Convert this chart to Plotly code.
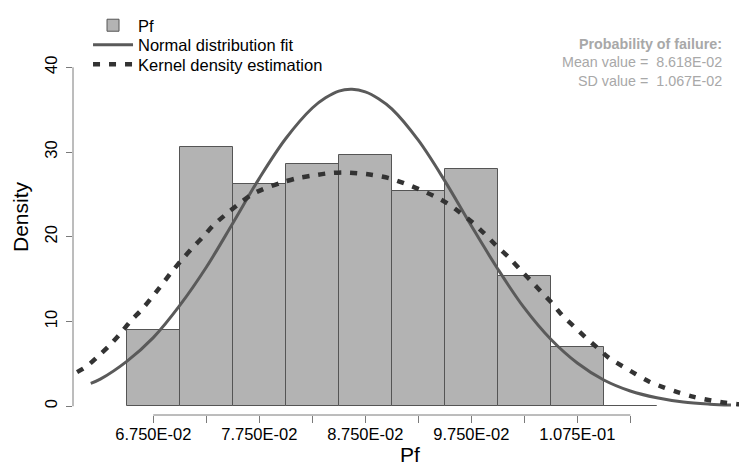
import plotly.graph_objects as go

# Histogramm der Versagenswahrscheinlichkeit (Dichte)
bin_centers = [0.0675, 0.0725, 0.0775, 0.0825, 0.0875, 0.0925, 0.0975, 0.1025, 0.1075, 0.1125]
bin_density = [9.0, 30.65, 26.2, 28.6, 29.6, 25.4, 28.0, 15.4, 7.0, 0.0]
bin_width = 0.005

# Normalverteilung
normal_x = [0.0616, 0.0625, 0.065, 0.0675, 0.070, 0.0725, 0.075, 0.0775, 0.080, 0.0825,
            0.08375, 0.085, 0.08625, 0.0875, 0.08875, 0.090, 0.0925, 0.095, 0.0975, 0.100,
            0.1025, 0.105, 0.1075, 0.110, 0.1125, 0.115, 0.1175, 0.120, 0.122]
normal_y = [2.7, 3.2, 5.3, 8.1, 11.9, 16.4, 21.6, 26.9, 31.6, 35.2,
            36.4, 37.2, 37.4, 37.1, 36.3, 35.1, 31.4, 26.6, 21.3, 16.2,
            11.6, 7.9, 5.1, 3.1, 1.8, 1.0, 0.5, 0.25, 0.14]

# Kerndichteschaetzung
kde_x = [0.0590, 0.0597, 0.0612, 0.0623, 0.0634, 0.0644, 0.0654, 0.0664, 0.0674, 0.0684, 0.0692,
         0.0702, 0.0712, 0.0722, 0.0732, 0.0744, 0.0756, 0.0768, 0.0782, 0.0796, 0.0810, 0.0824,
         0.0840, 0.0854, 0.0868, 0.0882, 0.0898, 0.0912, 0.0926, 0.0940, 0.0953, 0.0965, 0.0977,
         0.0988, 0.0999, 0.1011, 0.1022, 0.1032, 0.1041, 0.1051, 0.1061, 0.1072, 0.1083, 0.1094,
         0.1105, 0.1118, 0.1130, 0.1143, 0.1157, 0.1171, 0.1185, 0.1200, 0.1215, 0.1231, 0.1240]
kde_y = [3.1, 3.6, 4.7, 5.9, 7.2, 8.6, 10.1, 11.4, 12.9, 14.5, 15.8,
         17.3, 18.7, 20.0, 21.4, 22.7, 23.9, 25.0, 25.8, 26.4, 26.9, 27.2,
         27.5, 27.6, 27.5, 27.3, 26.9, 26.3, 25.6, 24.8, 23.9, 22.8, 21.6,
         20.3, 18.9, 17.5, 16.0, 14.7, 13.5, 12.2, 10.7, 9.4, 8.1, 6.9,
         5.7, 4.7, 3.8, 2.9, 2.2, 1.6, 1.1, 0.7, 0.4, 0.2, 0.15]

x_tickvals = [0.0675, 0.0725, 0.0775, 0.0825, 0.0875, 0.0925, 0.0975, 0.1025, 0.1075, 0.1125]
x_ticktext = ["6.750E-02", "", "7.750E-02", "", "8.750E-02", "", "9.750E-02", "", "1.075E-01", ""]
y_tickvals = [0, 10, 20, 30, 40]

mean_text = "Mean value = \u00a08.618E-02"
sd_text = "SD value = \u00a01.067E-02"

FONT = "Liberation Sans, Arial, sans-serif"
AXIS_GREY = "#7a7a7a"
NOTE_GREY = "#a8a8a8"

fig = go.Figure()

fig.add_trace(go.Bar(
    x=bin_centers, y=bin_density, width=bin_width, name="Pf", legend="legend",
    marker=dict(color="#b3b3b3", line=dict(color="#555555", width=1)),
))
fig.add_trace(go.Scatter(
    x=normal_x, y=normal_y, mode="lines", name="Normal distribution fit", legend="legend2",
    line=dict(color="#5a5a5a", width=3, shape="spline", smoothing=1.0),
))
fig.add_trace(go.Scatter(
    x=kde_x, y=kde_y, mode="lines", name="Kernel density estimation", legend="legend3",
    line=dict(color="#333333", width=4.5, dash="7px,9px", shape="spline", smoothing=0.8),
))

# Achsenlinien im R-Stil (nur zwischen erstem und letztem Tick)
fig.add_shape(type="line", xref="x", yref="paper", x0=x_tickvals[0], x1=x_tickvals[-1],
              y0=0, y1=0, line=dict(color=AXIS_GREY, width=1))
fig.add_shape(type="line", xref="paper", yref="y", x0=0, x1=0,
              y0=y_tickvals[0], y1=y_tickvals[-1], line=dict(color=AXIS_GREY, width=1))

# Kennwerte rechts oben
notes = [("<b>Probability of failure:</b>", 0.9361), (mean_text, 0.8919), (sd_text, 0.8428)]
for txt, ypos in notes:
    fig.add_annotation(text=txt, xref="paper", yref="paper", x=0.9659, y=ypos,
                       xanchor="right", yanchor="middle", showarrow=False,
                       font=dict(family=FONT, size=14.3, color=NOTE_GREY))


def legend_box(ypos):
    return dict(x=0.0223, y=ypos, xanchor="left", yanchor="middle",
                bgcolor="rgba(0,0,0,0)", borderwidth=0, itemwidth=40,
                font=dict(family=FONT, size=16.5, color="black"))


fig.update_layout(
    width=739, height=461,
    margin=dict(l=65, r=0, t=0, b=54),
    plot_bgcolor="white", paper_bgcolor="white",
    bargap=0,
    font=dict(family=FONT, size=16.5, color="black"),
    showlegend=True,
    legend=legend_box(0.9840),
    legend2=legend_box(0.9340),
    legend3=legend_box(0.8850),
    xaxis=dict(range=[0.059925, 0.12351], showgrid=False, zeroline=False, showline=False,
               tickmode="array", tickvals=x_tickvals, ticktext=x_ticktext,
               ticks="outside", ticklen=7, tickcolor=AXIS_GREY, ticklabelstandoff=-3,
               title=dict(text="Pf", font=dict(size=21), standoff=1)),
    yaxis=dict(range=[-1.0335, 45.705], showgrid=False, zeroline=False, showline=False,
               tickmode="array", tickvals=y_tickvals, tickangle=-90,
               ticks="outside", ticklen=6, tickcolor=AXIS_GREY, ticklabelstandoff=2,
               title=dict(text="Density", font=dict(size=21), standoff=8)),
)

fig.write_html("out.html")
